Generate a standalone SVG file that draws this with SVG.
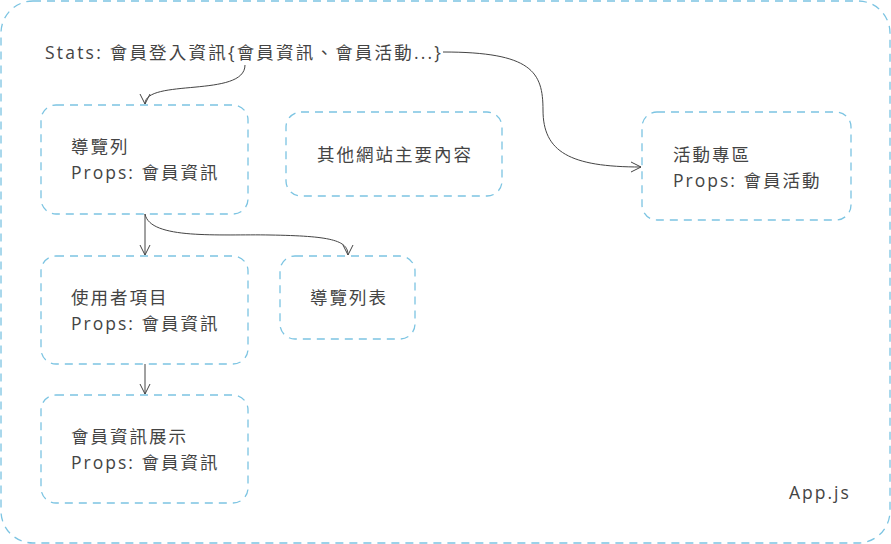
<svg xmlns="http://www.w3.org/2000/svg" width="891" height="544" viewBox="0 0 891 544">
<style>
.box{fill:none;stroke:#7cc4e2;stroke-width:1.3;stroke-dasharray:8 6}
.t{font-family:"Open Sans","Noto Sans CJK TC",sans-serif;font-size:17.5px;letter-spacing:2px;fill:#444}
.c{fill:none;stroke:#444;stroke-width:1}
</style>
<defs>
<marker id="a" viewBox="0 0 12 12" refX="11" refY="6" markerWidth="12" markerHeight="12" markerUnits="userSpaceOnUse" orient="auto">
<path d="M1,1 L11,6 L1,11" fill="none" stroke="#444" stroke-width="1"/>
</marker>
</defs>
<g id="app">
<rect class="box" x="1" y="1" width="889" height="542" rx="32"/>
<text class="t" x="789" y="499">App.js</text>
</g>
<g id="stats">
<text class="t" x="45" y="59" style="letter-spacing:2.2px">Stats: 會員登入資訊{會員資訊、會員活動...}</text>
</g>
<g id="nav">
<rect class="box" x="41" y="105" width="207" height="109" rx="15"/>
<text class="t" x="71" y="153">導覽列</text>
<text class="t" x="71" y="179">Props: 會員資訊</text>
</g>
<g id="main">
<rect class="box" x="286" y="112" width="216" height="84" rx="15"/>
<text class="t" x="395" y="161" text-anchor="middle">其他網站主要內容</text>
</g>
<g id="event">
<rect class="box" x="642" y="112" width="209" height="108" rx="15"/>
<text class="t" x="673" y="161">活動專區</text>
<text class="t" x="673" y="187">Props: 會員活動</text>
</g>
<g id="user">
<rect class="box" x="41" y="256" width="207" height="108" rx="15"/>
<text class="t" x="71" y="304">使用者項目</text>
<text class="t" x="71" y="330">Props: 會員資訊</text>
</g>
<g id="navlist">
<rect class="box" x="280" y="256" width="135" height="83" rx="15"/>
<text class="t" x="349" y="304" text-anchor="middle">導覽列表</text>
</g>
<g id="info">
<rect class="box" x="41" y="395" width="207" height="108" rx="15"/>
<text class="t" x="71" y="443">會員資訊展示</text>
<text class="t" x="71" y="469">Props: 會員資訊</text>
</g>
<g id="connectors">
<path class="c" d="M245,65 C245,98 145,78 145,104" marker-end="url(#a)"/>
<path class="c" d="M443,52 C532,52 543,72 543,110 C543,152 570,167 641,167" marker-end="url(#a)"/>
<path class="c" d="M145,214 L145,255" marker-end="url(#a)"/>
<path class="c" d="M145,214 C150,240 220,234 270,235 C330,236 348,240 348,255" marker-end="url(#a)"/>
<path class="c" d="M145,364 L145,394" marker-end="url(#a)"/>
</g>
</svg>
